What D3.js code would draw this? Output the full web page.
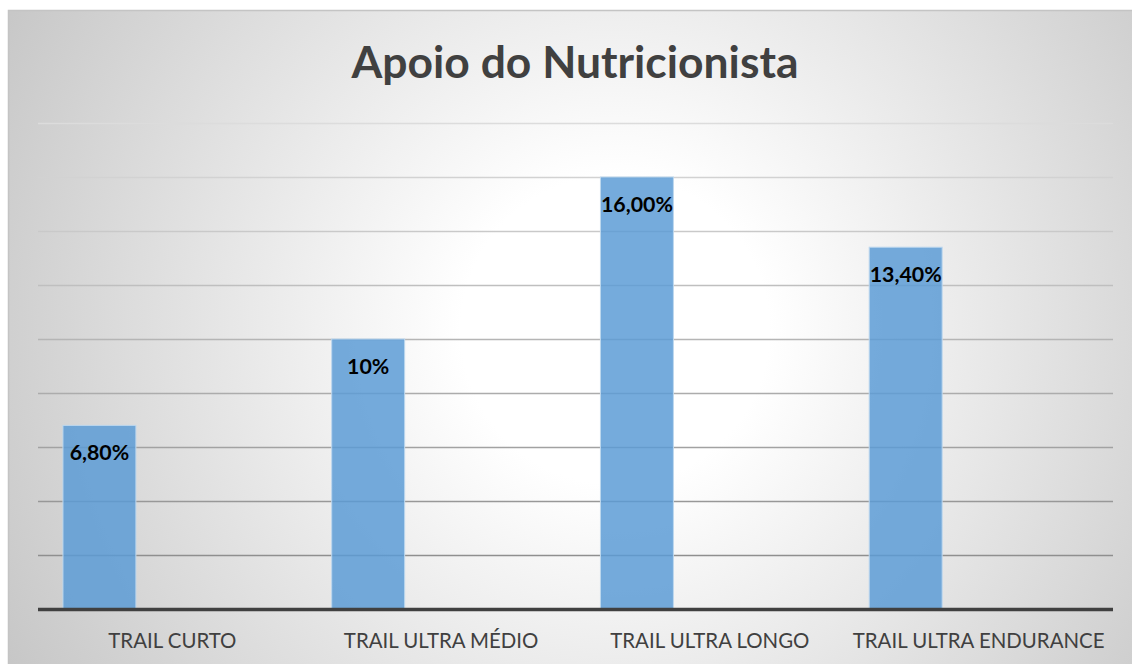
<!DOCTYPE html>
<html>
<head>
<meta charset="utf-8">
<script src="https://cdn.jsdelivr.net/npm/d3@7"></script>
<style>
  html, body { margin: 0; padding: 0; background: #fff; }
  svg { display: block; }
</style>
</head>
<body>
<div id="chart"></div>
<script>
document.addEventListener("DOMContentLoaded", () => {

    // Data
    const categories = ["TRAIL CURTO", "TRAIL ULTRA MÉDIO", "TRAIL ULTRA LONGO", "TRAIL ULTRA ENDURANCE"];
    const values = [6.8, 10, 16, 13.4];
    const valueLabels = ["6,80%", "10%", "16,00%", "13,40%"];
    const seriesSlots = ["s1", "s2", "s3"]; // only the first slot holds data
    const title = "Apoio do Nutricionista";

    const W = 1132, H = 664;
    const plot = { left: 38, right: 1113, top: 123, bottom: 609 };
    const fontFamily = "Lato, 'Open Sans', 'Noto Sans', sans-serif";

    const svg = d3.select("#chart").append("svg")
        .attr("width", W).attr("height", H);

    // Background gradient
    const defs = svg.append("defs");
    const grad = defs.append("radialGradient").attr("id", "bg")
        .attr("gradientUnits", "userSpaceOnUse")
        .attr("cx", 615).attr("cy", 330).attr("r", 700);
    grad.append("stop").attr("offset", "0").attr("stop-color", "#ffffff");
    grad.append("stop").attr("offset", "0.22").attr("stop-color", "#ffffff");
    grad.append("stop").attr("offset", "1").attr("stop-color", "#c6c6c6");

    svg.append("rect")
        .attr("x", 8.5).attr("y", 10.5).attr("width", W).attr("height", H)
        .attr("fill", "url(#bg)").attr("stroke", "#c4c4c4").attr("stroke-width", 1.5);

    // Scales
    const y = d3.scaleLinear().domain([0, 18]).range([plot.bottom, plot.top]);
    const x0 = d3.scaleBand().domain(categories).range([plot.left, plot.right]).padding(0);
    const x1 = d3.scaleBand().domain(seriesSlots).range([0, x0.bandwidth()])
        .paddingInner(0).paddingOuter(0.342);

    // Gridlines (darker toward the bottom)
    const gridColor = d3.scaleLinear().domain([0, 18]).range(["#858585", "#dcdcdc"]);
    const grid = svg.append("g")
        .attr("transform", `translate(${plot.left},0)`)
        .call(d3.axisLeft(y).ticks(9).tickSize(-(plot.right - plot.left)).tickFormat(""));
    grid.select(".domain").remove();
    grid.selectAll(".tick").filter(d => d === 0).remove();
    grid.selectAll(".tick line")
        .attr("stroke", d => gridColor(d))
        .attr("stroke-width", 1.3);

    // Bars
    svg.append("g").selectAll("rect")
        .data(values)
        .join("rect")
        .attr("x", (d, i) => x0(categories[i]) + x1("s1"))
        .attr("y", d => y(d))
        .attr("width", x1.bandwidth())
        .attr("height", d => y(0) - y(d))
        .attr("fill", "#5b9bd5")
        .attr("fill-opacity", 0.84)
        .attr("stroke", "#bdd7ee")
        .attr("stroke-width", 1);

    // Baseline
    svg.append("line")
        .attr("x1", plot.left).attr("x2", plot.right)
        .attr("y1", y(0) + 0.5).attr("y2", y(0) + 0.5)
        .attr("stroke", "#404040").attr("stroke-width", 3.5);

    // Helper: fit font size so a text reaches a target width
    function fitSize(sel, target, start) {
        sel.style("font-size", start + "px");
        const w = sel.node().getComputedTextLength();
        return start * target / w;
    }

    // Data labels
    const labels = svg.append("g").selectAll("text")
        .data(values)
        .join("text")
        .attr("x", (d, i) => x0(categories[i]) + x1("s1") + x1.bandwidth() / 2)
        .attr("y", d => y(d) + 35)
        .attr("text-anchor", "middle")
        .style("font-family", fontFamily)
        .style("font-weight", "700")
        .style("fill", "#000")
        .text((d, i) => valueLabels[i]);
    const labSize = fitSize(labels.filter((d, i) => i === 2), 72, 20);
    labels.style("font-size", labSize + "px");

    // Category labels
    const cats = svg.append("g").selectAll("text")
        .data(categories)
        .join("text")
        .attr("x", d => x0(d) + x0.bandwidth() / 2)
        .attr("y", 648)
        .attr("text-anchor", "middle")
        .style("font-family", fontFamily)
        .style("fill", "#404040")
        .text(d => d);
    const catSize = fitSize(cats.filter((d, i) => i === 3), 252, 20);
    cats.style("font-size", catSize + "px");

    // Title
    const t = svg.append("text")
        .attr("x", 575).attr("y", 78)
        .attr("text-anchor", "middle")
        .style("font-family", fontFamily)
        .style("font-weight", "700")
        .style("fill", "#404040")
        .text(title);
    t.style("font-size", fitSize(t, 447, 40) + "px");
});
</script>
</body>
</html>
